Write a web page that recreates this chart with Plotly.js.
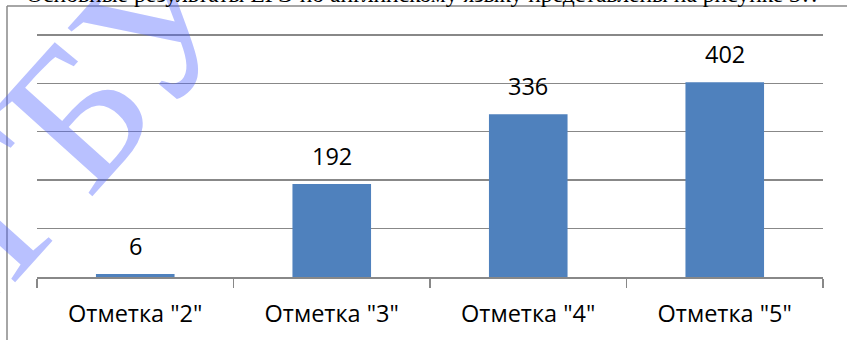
<!DOCTYPE html>
<html>
<head>
<meta charset="utf-8">
<script src="https://cdn.plot.ly/plotly-3.0.1.min.js"></script>
<style>html,body{margin:0;padding:0;background:#fff;overflow:hidden}</style>
</head>
<body>
<div id="chart" style="width:847px;height:340px"></div>
<script>
const categories = ['Отметка "2"', 'Отметка "3"', 'Отметка "4"', 'Отметка "5"'];
const values = [6, 192, 336, 402];
const headerText = 'Основные результаты ЕГЭ по английскому языку представлены на рисунке 3?.';
const watermarkText = 'СГБУ';

const W = 847, H = 340;
const M = {l: 37, r: 24, t: 30, b: 63};
const pw = W - M.l - M.r, ph = H - M.t - M.b;
const px = x => (x - M.l) / pw;
const py = y => (H - M.b - y) / ph;

const labelFont = {family: '"Open Sans", sans-serif', size: 23.5, color: '#000'};

const annotations = categories.map((c, i) => ({
  x: c, y: values[i], xref: 'x', yref: 'y',
  text: String(values[i]), showarrow: false,
  yanchor: 'bottom', yshift: 10, font: labelFont
}));

annotations.push({
  xref: 'paper', yref: 'paper', x: px(38), y: py(155),
  text: watermarkText, showarrow: false, textangle: -48,
  font: {family: '"Liberation Serif", serif', size: 200, color: 'rgba(80,100,255,0.40)'},
  xanchor: 'center', yanchor: 'middle'
});

annotations.push({
  xref: 'paper', yref: 'paper', x: px(24), y: py(-6),
  text: headerText, showarrow: false, xanchor: 'left', yanchor: 'middle',
  font: {family: '"Liberation Serif", serif', size: 23.6, color: '#000'}
});

const data = [{
  type: 'bar', x: categories, y: values,
  marker: {color: '#4F81BD'}, hoverinfo: 'none'
}];

const layout = {
  width: W, height: H, margin: M,
  paper_bgcolor: '#fff', plot_bgcolor: '#fff',
  bargap: 0.6, showlegend: false,
  font: labelFont,
  xaxis: {
    type: 'category', showline: true, linecolor: '#888', linewidth: 1.5,
    ticks: 'outside', tickson: 'boundaries', ticklen: 9, tickcolor: '#888', tickwidth: 1.5,
    tickfont: labelFont, showgrid: false, zeroline: false, ticklabelstandoff: 15
  },
  yaxis: {
    range: [0, 510], tickvals: [100, 200, 300, 400, 500], showticklabels: false, ticks: '',
    showgrid: true, gridcolor: '#888', gridwidth: 1.5, zeroline: false, showline: false
  },
  shapes: [
    {type: 'line', xref: 'paper', yref: 'paper', x0: px(7), x1: px(7), y0: py(345), y1: py(6), line: {color: '#888', width: 1.5}},
    {type: 'line', xref: 'paper', yref: 'paper', x0: px(7), x1: px(852), y0: py(6), y1: py(6), line: {color: '#888', width: 1.5}}
  ],
  annotations: annotations
};

Plotly.newPlot('chart', data, layout, {staticPlot: true, displayModeBar: false});
</script>
</body>
</html>
